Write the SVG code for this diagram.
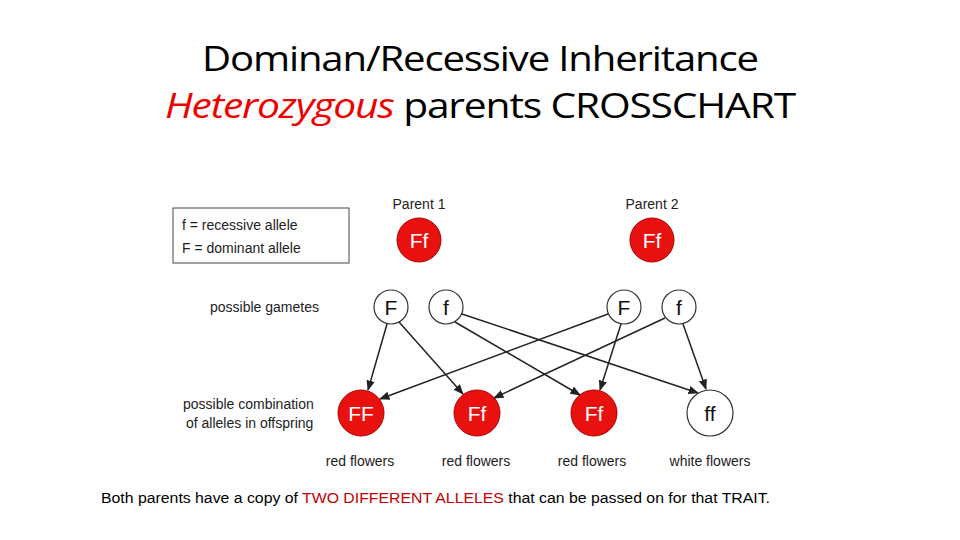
<svg xmlns="http://www.w3.org/2000/svg" width="960" height="540" viewBox="0 0 960 540">
<style>
.t{font-family:"Liberation Sans",Arial,sans-serif;font-size:14px;fill:#222}
.red{fill:#e8110f;stroke:#a00;stroke-width:1}
.wh{fill:#fff;stroke:#333;stroke-width:1.2}
.ct{font-family:"Liberation Sans",Arial,sans-serif;font-size:21px;fill:#fff;text-anchor:middle}
.gt{font-family:"Liberation Sans",Arial,sans-serif;font-size:21px;fill:#111;text-anchor:middle}
.ttl{font-family:"Open Sans","Liberation Sans",sans-serif;font-size:35px;fill:#000;letter-spacing:-1px}
.c line{stroke:#222;stroke-width:1.5;marker-end:url(#a)}
</style>
<defs><marker id="a" viewBox="0 0 10 10" refX="9" refY="5" markerWidth="7" markerHeight="7" orient="auto"><path d="M0,1 L10,5 L0,9 z" fill="#222"/></marker></defs>
<rect width="960" height="540" fill="#fff"/>
<text class="ttl" x="202" y="71" textLength="556" lengthAdjust="spacingAndGlyphs">Dominan/Recessive Inheritance</text>
<text class="ttl" x="165" y="118" textLength="630" lengthAdjust="spacingAndGlyphs"><tspan font-style="italic" fill="#e00">Heterozygous</tspan> parents CROSSCHART</text>
<g id="legend"><rect x="173" y="208" width="176" height="55" fill="#fff" stroke="#444"/><text class="t" x="182" y="230">f = recessive allele</text><text class="t" x="182" y="253">F = dominant allele</text></g>
<g id="labels"><text class="t" x="210" y="312">possible gametes</text><text class="t" x="183" y="409">possible combination</text><text class="t" x="186" y="428">of alleles in offspring</text></g>
<g id="parent1"><text class="t" x="419" y="209" text-anchor="middle">Parent 1</text><circle class="red" cx="419" cy="240" r="22"/><text class="ct" x="419" y="248">Ff</text></g>
<g id="parent2"><text class="t" x="652" y="209" text-anchor="middle">Parent 2</text><circle class="red" cx="652" cy="240" r="22"/><text class="ct" x="652" y="248">Ff</text></g>
<g id="g1"><circle class="wh" cx="391" cy="307" r="17"/><text class="gt" x="391" y="315">F</text></g>
<g id="g2"><circle class="wh" cx="446" cy="307" r="17"/><text class="gt" x="446" y="315">f</text></g>
<g id="g3"><circle class="wh" cx="624" cy="307" r="17"/><text class="gt" x="624" y="315">F</text></g>
<g id="g4"><circle class="wh" cx="679" cy="307" r="17"/><text class="gt" x="679" y="315">f</text></g>
<g id="o1"><circle class="red" cx="361" cy="413" r="23"/><text class="ct" x="361" y="421">FF</text><text class="t" x="360" y="466" text-anchor="middle">red flowers</text></g>
<g id="o2"><circle class="red" cx="477" cy="413" r="23"/><text class="ct" x="477" y="421">Ff</text><text class="t" x="476" y="466" text-anchor="middle">red flowers</text></g>
<g id="o3"><circle class="red" cx="594" cy="413" r="23"/><text class="ct" x="594" y="421">Ff</text><text class="t" x="592" y="466" text-anchor="middle">red flowers</text></g>
<g id="o4"><circle class="wh" cx="710" cy="413" r="23"/><text class="gt" x="710" y="421">ff</text><text class="t" x="710" y="466" text-anchor="middle">white flowers</text></g>
<g class="c" id="connectors">
<line x1="387" y1="324" x2="368" y2="390"/>
<line x1="399" y1="322" x2="463" y2="394"/>
<line x1="455" y1="322" x2="580" y2="395"/>
<line x1="462" y1="314" x2="698" y2="393"/>
<line x1="608" y1="314" x2="380" y2="399"/>
<line x1="621" y1="324" x2="600" y2="390"/>
<line x1="665" y1="318" x2="494" y2="398"/>
<line x1="683" y1="324" x2="706" y2="389"/>
</g>
<text x="101" y="503" font-family="'Liberation Sans',sans-serif" font-size="14" fill="#000" textLength="669" lengthAdjust="spacingAndGlyphs">Both parents have a copy of <tspan fill="#c00000">TWO DIFFERENT ALLELES</tspan> that can be passed on for that TRAIT.</text>
</svg>
